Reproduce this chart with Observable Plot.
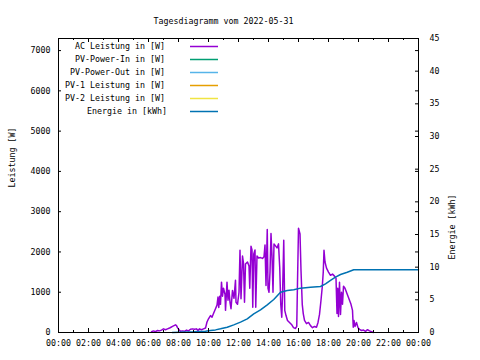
<!DOCTYPE html>
<html><head><meta charset="utf-8">
<script src="https://cdn.jsdelivr.net/npm/d3@7"></script>
<script src="https://cdn.jsdelivr.net/npm/@observablehq/plot@0.6"></script>
<style>body{margin:0;background:#fff} svg{display:block}</style>
</head><body><div id="chart"></div>
<script>
// ---- data ----
const acTimes = ["06:12","06:20","06:28","06:36","06:44","06:52","07:00","07:08","07:16","07:24","07:30","07:36","07:42","07:48","07:52","07:56","08:02","08:08","08:16","08:24","08:32","08:40","08:48","08:56","09:04","09:12","09:18","09:24","09:32","09:40","09:48","09:54","10:00","10:08","10:14","10:20","10:28","10:34","10:38","10:41","10:45","10:48","10:52","10:56","11:00","11:06","11:08","11:14","11:18","11:22","11:26","11:30","11:36","11:42","11:48","11:50","11:56","12:02","12:06","12:10","12:16","12:20","12:24","12:28","12:36","12:42","12:45","12:50","12:54","12:57","13:01","13:06","13:09","13:14","13:20","13:28","13:36","13:42","13:46","13:50","13:55","13:58","14:02","14:06","14:10","14:14","14:18","14:22","14:28","14:34","14:40","14:45","14:49","14:53","14:56","15:01","15:05","15:10","15:16","15:24","15:32","15:40","15:48","15:53","15:56","16:00","16:06","16:10","16:15","16:19","16:24","16:32","16:40","16:48","16:56","17:04","17:12","17:18","17:24","17:30","17:35","17:39","17:42","17:46","17:52","18:00","18:08","18:16","18:24","18:30","18:34","18:37","18:40","18:44","18:48","18:52","18:56","19:00","19:06","19:12","19:18","19:24","19:30","19:36","19:39","19:42","19:46","19:52","19:58","20:04","20:12","20:20","20:28","20:36","20:44","20:52","21:00"];
const acWatts = [20,40,20,50,40,60,90,70,90,110,130,150,170,190,170,120,70,30,40,30,60,40,80,90,80,90,50,90,70,90,110,260,340,420,380,470,590,680,880,620,900,700,1250,900,1100,950,550,1250,800,1050,750,590,1045,850,1300,750,700,1000,2040,840,1900,1720,750,1700,1750,1650,1100,2140,2050,630,1950,2050,630,1900,1850,1860,1840,1880,2170,1170,2560,1100,1000,1500,2460,1900,1000,2200,2150,2100,2200,1600,700,380,900,2290,550,420,300,250,200,120,100,150,1250,2590,2450,1540,700,470,300,220,250,170,120,150,130,250,450,800,1130,1500,2040,1750,1600,1500,1420,1450,1400,1350,470,1100,400,1250,450,1000,700,1150,1100,1000,900,800,700,550,130,300,150,250,120,80,50,60,30,70,40,20,0];

const energieTimes = ["07:35","09:01","09:48","10:08","10:28","10:48","11:15","11:41","12:08","12:35","13:01","13:28","13:55","14:21","14:48","15:15","15:41","16:08","16:48","17:28","17:48","18:08","18:28","18:48","19:15","19:41","24:00"];
const energieKWh = [0,0.1,0.2,0.3,0.4,0.56,0.81,1.17,1.58,2.09,2.86,3.47,4.24,5.05,6.17,6.43,6.53,6.79,6.94,7.04,7.45,7.96,8.47,8.88,9.23,9.6,9.6];

const xTickHours = [0,2,4,6,8,10,12,14,16,18,20,22,24];
const xMinorHours = [1,3,5,7,9,11,13,15,17,19,21,23];
const leftTicks = [0,1000,2000,3000,4000,5000,6000,7000];
const rightTicks = [0,5,10,15,20,25,30,35,40,45];

const legendLabels = ["AC Leistung in [W]","PV-Power-In in [W]","PV-Power-Out in [W]","PV-1 Leistung in [W]","PV-2 Leistung in [W]","Energie in [kWh]"];
const legendColors = ["#9400d3","#009e73","#56b4e9","#e69f00","#f0e442","#0072b2"];

// ---- build ----
const YMAX = 7300, Y2MAX = 45, K = YMAX / Y2MAX;
const toMin = s => { const [h, m] = s.split(":").map(Number); return h * 60 + m; };
const ac = acTimes.map((t, i) => ({t: toMin(t), w: acWatts[i]}));
const en = energieTimes.map((t, i) => ({t: toMin(t), e: energieKWh[i]}));
const hhmm = m => String(Math.floor(m / 60) % 24).padStart(2, "0") + ":" + String(m % 60).padStart(2, "0");

const W = 480, H = 360, mL = 58, mR = 62, mT = 38, mB = 28;
const fw = W - mL - mR, fh = H - mT - mB;

const svg = Plot.plot({
  width: W, height: H,
  marginLeft: mL, marginRight: mR, marginTop: mT, marginBottom: mB,
  style: {fontFamily: "'DejaVu Sans Mono', monospace", fontSize: "8.3px", color: "#000", background: "#fff"},
  x: {domain: [0, 1440]},
  y: {domain: [0, YMAX]},
  marks: [
    Plot.line(ac, {x: "t", y: "w", stroke: legendColors[0], strokeWidth: 1.5}),
    Plot.line(en, {x: "t", y: d => d.e * K, stroke: legendColors[5], strokeWidth: 1.5}),
    Plot.frame({stroke: "#000"}),
    // x ticks (inward, bottom and top)
    Plot.tickX(xTickHours.map(h => h * 60), {x: d => d, insetTop: fh - 4, stroke: "#000"}),
    Plot.tickX(xTickHours.map(h => h * 60), {x: d => d, insetBottom: fh - 4, stroke: "#000"}),
    Plot.tickX(xMinorHours.map(h => h * 60), {x: d => d, insetTop: fh - 2, stroke: "#000"}),
    Plot.tickX(xMinorHours.map(h => h * 60), {x: d => d, insetBottom: fh - 2, stroke: "#000"}),
    // y ticks
    Plot.tickY(leftTicks, {y: d => d, insetRight: fw - 3, stroke: "#000"}),
    Plot.tickY(leftTicks, {y: d => d, insetLeft: fw - 3, stroke: "#000"}),
    Plot.tickY(rightTicks.map(v => v * K), {y: d => d, insetLeft: fw - 3, stroke: "#000"}),
    // tick labels
    Plot.axisX(xTickHours.map(h => h * 60), {tickSize: 0, tickPadding: 8, tickFormat: hhmm, label: null}),
    Plot.axisY(leftTicks, {tickSize: 0, tickPadding: 8, tickFormat: d => String(d), label: null}),
    Plot.axisY(rightTicks.map(v => v * K), {anchor: "right", tickSize: 0, tickPadding: 11, tickFormat: d => String(Math.round(d / K)), label: null}),
    // axis titles and chart title
    Plot.text(["Leistung [W]"], {frameAnchor: "left", dx: -46, dy: 2, rotate: -90, text: d => d}),
    Plot.text(["Energie [kWh]"], {frameAnchor: "right", dx: 34, dy: 9, rotate: -90, text: d => d}),
    Plot.text(["Tagesdiagramm vom 2022-05-31"], {frameAnchor: "top", dx: -15, dy: -20, text: d => d})
  ]
});

// legend
const g = d3.select(svg).append("g").attr("class", "legend");
legendLabels.forEach((lab, i) => {
  const y = 46.5 + 13 * i;
  g.append("text").attr("x", i === 5 ? 167 : 165).attr("y", y).attr("dy", "0.32em")
    .attr("text-anchor", "end").attr("fill", "#000").text(lab);
  g.append("line").attr("x1", 190).attr("x2", 218).attr("y1", y).attr("y2", y)
    .attr("stroke", legendColors[i]).attr("stroke-width", 1.5);
});

document.getElementById("chart").appendChild(svg);
</script>
</body></html>
